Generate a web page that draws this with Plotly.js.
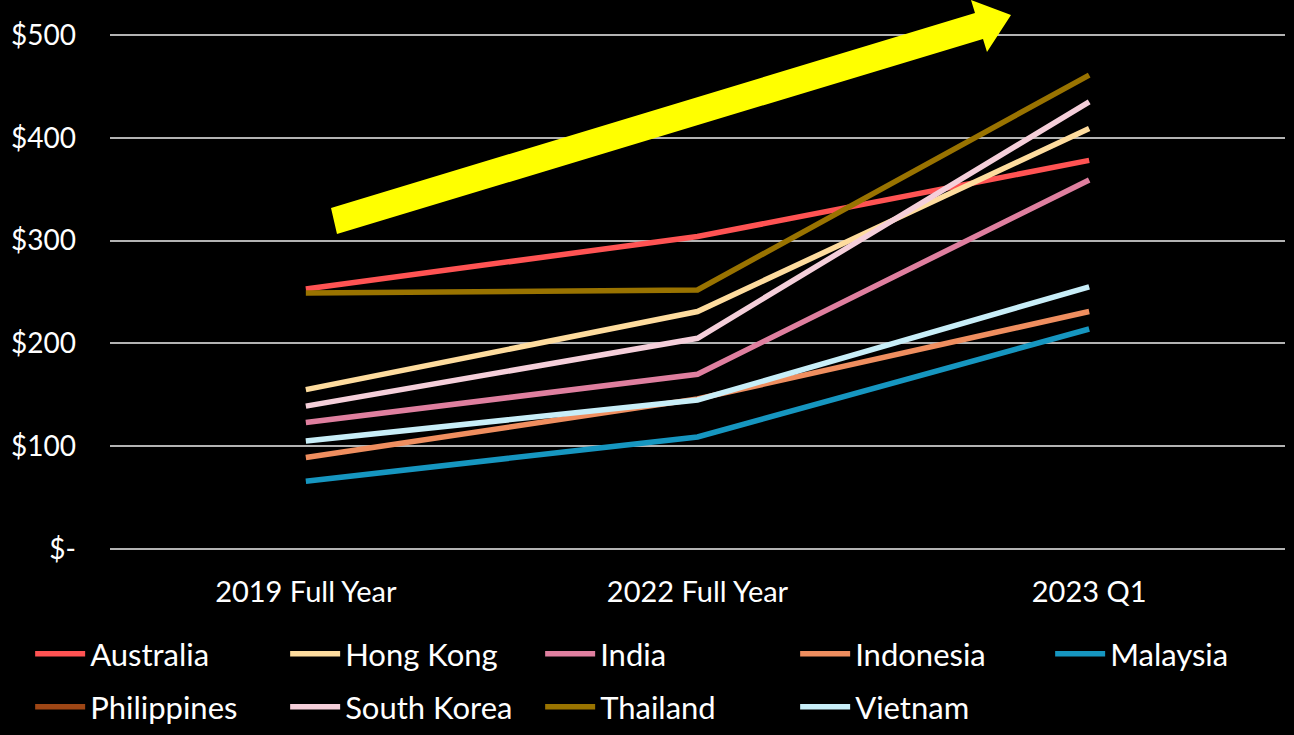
<!DOCTYPE html>
<html><head><meta charset="utf-8">
<script src="https://cdn.plot.ly/plotly-3.0.1.min.js"></script>
<style>html,body{margin:0;padding:0;background:#000;}#chart{width:1294px;height:735px;}</style>
</head><body><div id="chart"></div>
<script>
const categories = ["2019 Full Year", "2022 Full Year", "2023 Q1"];
const seriesNames = ["Australia", "Hong Kong", "India", "Indonesia", "Malaysia", "Philippines", "South Korea", "Thailand", "Vietnam"];
const australia   = [253, 304, 378];
const hongKong    = [155, 231, 409];
const india       = [123, 170, 359];
const indonesia   = [89, 146, 231];
const malaysia    = [66, 109, 214];
const philippines = [null, null, null];
const southKorea  = [139, 205, 435];
const thailand    = [249, 252, 461];
const vietnam     = [105, 145, 255];
const seriesValues = [australia, hongKong, india, indonesia, malaysia, philippines, southKorea, thailand, vietnam];
const seriesColors = ["#ff5353", "#fedc9e", "#df7f9f", "#ef8e5f", "#1696c0", "#9e4615", "#f5cfda", "#997300", "#c8eef8"];
const tickVals = [0, 100, 200, 300, 400, 500];
const tickText = ["$-", "$100", "$200", "$300", "$400", "$500"];

const FONT = "'Source Sans Pro', Lato, 'Noto Sans', sans-serif";

const traces = seriesNames.map((n, i) => ({
  type: "scatter", mode: "lines", name: n, x: categories, y: seriesValues[i],
  line: {color: seriesColors[i], width: 5.5}, connectgaps: false,
  legend: i < 4 ? "legend" : (i === 4 ? "legend3" : "legend2")
}));

// plot area: $0 at y=549, $500 at y=35 (1.028 px per $1); padded so edge gridlines show
const L = 110, W = 1175, T = 25, B = 559, H = B - T;
const pxPer = 514 / 500;
const yMax = (549 - T) / pxPer, yMin = -(B - 549) / pxPer;
const px = x => (x - L) / W, py = y => (B - y) / H;
const pts = [[337,234],[331,208],[975,13],[971,0],[1011,15],[987,52],[983,39]];
const path = "M" + pts.map(p => px(p[0]).toFixed(5) + "," + py(p[1]).toFixed(5)).join(" L") + " Z";

const legendBase = {orientation: "h", xref: "container", yref: "container", x: 0.0233,
  xanchor: "left", yanchor: "middle", entrywidth: 190, entrywidthmode: "pixels",
  font: {size: 31, color: "#fff"}, bgcolor: "rgba(0,0,0,0)", itemwidth: 50};

const layout = {
  width: 1294, height: 735,
  paper_bgcolor: "#000", plot_bgcolor: "#000",
  margin: {l: L, r: 1294 - L - W, t: T, b: 735 - B},
  font: {family: FONT, color: "#fff", size: 28},
  xaxis: {type: "category", range: [-0.5, 2.5], showgrid: false, zeroline: false, showline: false,
          ticks: "", ticklabelstandoff: 13, tickfont: {size: 29, color: "#fff"}, fixedrange: true},
  yaxis: {range: [yMin, yMax], tickvals: tickVals, ticktext: tickText, showgrid: true,
          gridcolor: "#b3b3b3", gridwidth: 2, zeroline: false, showline: false,
          ticks: "", ticklabelstandoff: 33, tickfont: {size: 28, color: "#fff"}},
  showlegend: true,
  legend: Object.assign({}, legendBase, {y: 1 - 654 / 735}),
  legend2: Object.assign({}, legendBase, {y: 1 - 707 / 735}),
  legend3: Object.assign({}, legendBase, {x: 0.0233 + 1020 / 1294, y: 1 - 654 / 735}),
  shapes: [{type: "path", xref: "paper", yref: "paper", path: path,
            fillcolor: "#ffff00", line: {width: 0}, layer: "above"}]
};
Plotly.newPlot("chart", traces, layout, {displayModeBar: false, staticPlot: true});
</script></body></html>
